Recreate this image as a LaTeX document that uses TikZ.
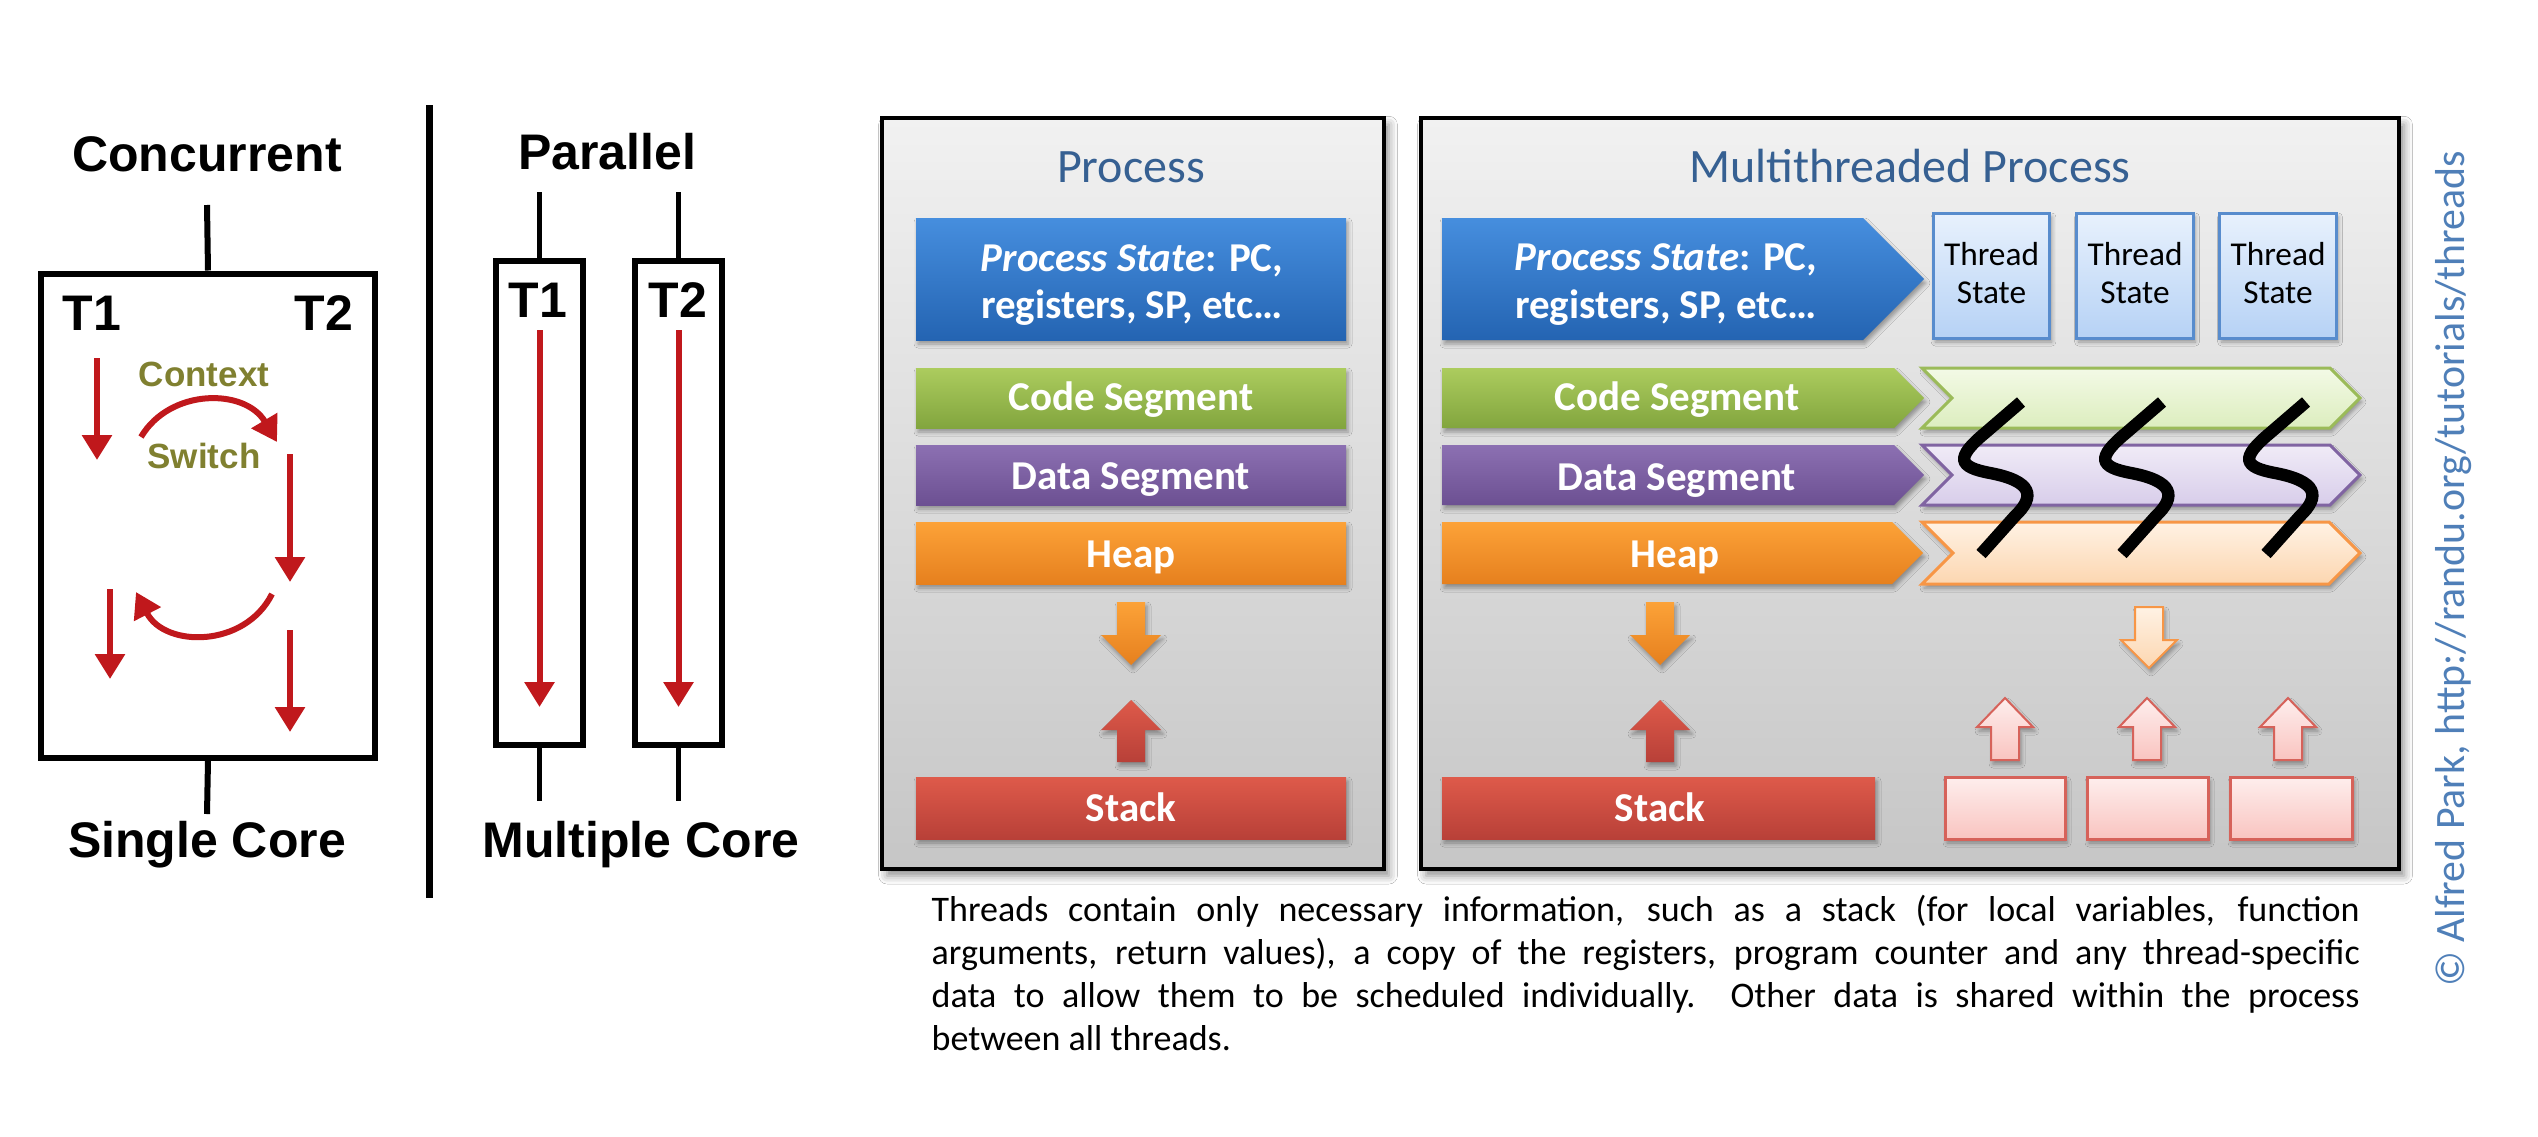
\documentclass[tikz,border=0pt]{standalone}
\usepackage{fontspec}
\setmainfont{Carlito}
\newfontfamily\arialf{Liberation Sans}
\usetikzlibrary{arrows.meta,shadows.blur}

\definecolor{dred}{RGB}{192,24,28}
\definecolor{olivetxt}{RGB}{128,128,48}
\definecolor{titleblue}{RGB}{54,96,146}
\definecolor{copyblue}{RGB}{79,127,184}
\definecolor{pantop}{RGB}{241,241,241}
\definecolor{panbot}{RGB}{198,198,198}
\definecolor{bluetop}{RGB}{70,142,222}
\definecolor{bluebot}{RGB}{36,100,178}
\definecolor{greentop}{RGB}{172,204,94}
\definecolor{greenbot}{RGB}{130,165,62}
\definecolor{purptop}{RGB}{140,112,178}
\definecolor{purpbot}{RGB}{108,80,146}
\definecolor{orgtop}{RGB}{252,162,56}
\definecolor{orgbot}{RGB}{230,128,30}
\definecolor{redtop}{RGB}{222,90,74}
\definecolor{redbot}{RGB}{184,64,56}
\definecolor{lgreentop}{RGB}{243,250,230}
\definecolor{lgreenbot}{RGB}{220,237,190}
\definecolor{lgreenline}{RGB}{155,187,89}
\definecolor{lpurptop}{RGB}{240,235,247}
\definecolor{lpurpbot}{RGB}{216,205,234}
\definecolor{lpurpline}{RGB}{128,100,162}
\definecolor{lorgtop}{RGB}{255,242,228}
\definecolor{lorgbot}{RGB}{252,214,176}
\definecolor{lorgline}{RGB}{247,150,70}
\definecolor{lredtop}{RGB}{254,238,237}
\definecolor{lredbot}{RGB}{249,196,192}
\definecolor{lredline}{RGB}{214,98,90}
\definecolor{lbluetop}{RGB}{232,241,253}
\definecolor{lbluebot}{RGB}{182,210,245}
\definecolor{lblueline}{RGB}{88,140,205}

\newcommand\blkarrow[7]{\path[#1] ({#2-#6},#3) -- ({#2+#6},#3) -- ({#2+#6},#4) -- ({#2+#7},#4) -- (#2,#5) -- ({#2-#7},#4) -- ({#2-#6},#4) -- cycle;}
\newcommand\pentbar[5]{\path[#1] (#2,#4) -- (#3,#4) -- ({#3+(#5-#4)/2},{(#4+#5)/2}) -- (#3,#5) -- (#2,#5) -- cycle;}
\newcommand\chevbar[5]{\path[#1] (#2,#4) -- (#3,#4) -- ({#3+(#5-#4)/2},{(#4+#5)/2}) -- (#3,#5) -- (#2,#5) -- ({#2+(#5-#4)/2},{(#4+#5)/2}) -- cycle;}

\begin{document}
\begin{tikzpicture}[x=0.3pt,y=-0.3pt,
  lbl/.style={font=\arialf\bfseries\fontsize{15}{18}\selectfont, inner sep=0pt, anchor=base},
  cstxt/.style={font=\arialf\bfseries\fontsize{10.5}{12}\selectfont, text=olivetxt, inner sep=0pt, anchor=base},
  frame/.style={draw=black, line width=1.8pt},
  redarr/.style={draw=dred, line width=1.8pt, -{Triangle[width=8.7pt,length=7.5pt]}},
  panel/.style={draw=black, line width=1.2pt, top color=pantop, bottom color=panbot,
     blur shadow={shadow xshift=1.5pt, shadow yshift=-2pt, shadow blur radius=2.5pt, shadow opacity=45}},
  bsh/.style={blur shadow={shadow xshift=0.6pt, shadow yshift=-1.2pt, shadow blur radius=1.2pt, shadow opacity=35}},
  ttl/.style={text=titleblue, font=\fontsize{14.4}{16}\selectfont, inner sep=0pt, anchor=base},
  btxt/.style={text=white, font=\bfseries\fontsize{12.3}{14}\selectfont, inner sep=0pt, anchor=base},
  rectbar/.style={bsh, inner sep=0pt, minimum width=129pt},
  tstxt/.style={font=\fontsize{10}{11}\selectfont, inner sep=0pt, anchor=base},
  tbox/.style={bsh, draw=lblueline, line width=0.9pt, top color=lbluetop, bottom color=lbluebot, inner sep=0pt, minimum width=35pt, minimum height=37.5pt},
  rbox/.style={bsh, draw=lredline, line width=0.9pt, top color=lredtop, bottom color=lredbot, inner sep=0pt, minimum height=18.6pt},
  sq/.style={draw=black, line width=3.7pt},
  capt/.style={font=\fontsize{10.8}{13}\selectfont, inner sep=0pt, anchor=base west},
]
\useasboundingbox (0,0) rectangle (2538,1136);
\fill[white] (0,0) rectangle (2538,1136);

% ---------------- Concurrent ----------------
\node[lbl] (conc) at (207,171) {Concurrent};
\coordinate (ctop) at (207,205);
\node[frame, draw, minimum width=100.2pt, minimum height=145.2pt, inner sep=0pt] (cbox) at (208,515.5) {};
\draw[frame] (ctop) -- (cbox.north);
\coordinate (cbot) at (207,814);
\draw[frame] (cbox.south) -- (cbot);
\node[lbl] (ct1) at (92,330) {T1};
\node[lbl] (ct2) at (324,330) {T2};
\coordinate (a1s) at (97,358);  \coordinate (a1e) at (97,460);
\coordinate (a2s) at (290,454); \coordinate (a2e) at (290,582);
\coordinate (a3s) at (110,589); \coordinate (a3e) at (110,679);
\coordinate (a4s) at (290,630); \coordinate (a4e) at (290,732);
\draw[redarr] (a1s) -- (a1e);
\draw[redarr] (a2s) -- (a2e);
\draw[redarr] (a3s) -- (a3e);
\draw[redarr] (a4s) -- (a4e);
\coordinate (s1s) at (141,437); \coordinate (s1e) at (277,442);
\coordinate (s2s) at (272,594); \coordinate (s2e) at (136,592);
\draw[redarr] (s1s) .. controls (170,388) and (245,388) .. (s1e);
\draw[redarr] (s2s) .. controls (245,648) and (165,648) .. (s2e);
\node[cstxt] (ctx) at (204,386) {Context};
\node[cstxt] (swt) at (204,468) {Switch};
\node[lbl] (single) at (207,857) {Single Core};

% separator
\coordinate (sepT) at (429,105); \coordinate (sepB) at (429,898);
\draw[line width=2.1pt] (sepT) -- (sepB);

% ---------------- Parallel ----------------
\node[lbl] (par) at (607,169) {Parallel};
\node[draw, line width=1.6pt, minimum width=26.1pt, minimum height=145.2pt, inner sep=0pt] (pb1) at (539.5,503) {};
\node[draw, line width=1.6pt, minimum width=26.1pt, minimum height=145.2pt, inner sep=0pt] (pb2) at (678.5,503) {};
\coordinate (p1t) at (539.5,192); \coordinate (p1b) at (539.5,801);
\coordinate (p2t) at (678.5,192); \coordinate (p2b) at (678.5,801);
\draw[line width=1.6pt] (p1t) -- (pb1.north);
\draw[line width=1.6pt] (pb1.south) -- (p1b);
\draw[line width=1.6pt] (p2t) -- (pb2.north);
\draw[line width=1.6pt] (pb2.south) -- (p2b);
\node[lbl] (pt1) at (538,317) {T1};
\node[lbl] (pt2) at (678,317) {T2};
\coordinate (pa1s) at (539.5,330); \coordinate (pa1e) at (539.5,707);
\coordinate (pa2s) at (678.5,330); \coordinate (pa2e) at (678.5,707);
\draw[redarr] (pa1s) -- (pa1e);
\draw[redarr] (pa2s) -- (pa2e);
\node[lbl] (multi) at (641,857) {Multiple Core};

% ---------------- Process panel ----------------
\path[panel] (882,118) rectangle (1384,869);
\node[ttl] (ptitle) at (1131,182) {Process};
\node[rectbar, top color=bluetop, bottom color=bluebot, minimum height=36.6pt] (ps) at (1131,279) {};
\node[btxt] (ps1) at (1132,271) {\itshape Process State\upshape: PC,};
\node[btxt] (ps2) at (1132,318) {registers, SP, etc…};
\node[rectbar, top color=greentop, bottom color=greenbot, minimum height=18pt] (pcode) at (1131,398) {};
\node[btxt] (pcodet) at (1131,410) {Code Segment};
\node[rectbar, top color=purptop, bottom color=purpbot, minimum height=18pt] (pdata) at (1131,475) {};
\node[btxt] (pdatat) at (1131,489) {Data Segment};
\node[rectbar, top color=orgtop, bottom color=orgbot, minimum height=18.6pt] (pheap) at (1131,553) {};
\node[btxt] (pheapt) at (1131,567) {Heap};
\blkarrow{bsh, top color=orgtop, bottom color=orgbot}{1131}{602}{635}{665}{14}{30}
\blkarrow{bsh, top color=redtop, bottom color=redbot}{1131}{762}{730}{700}{14}{30}
\node[rectbar, top color=redtop, bottom color=redbot, minimum height=18.6pt] (pstack) at (1131,808) {};
\node[btxt] (pstackt) at (1131,821) {Stack};

% ---------------- Multithreaded panel ----------------
\path[panel] (1421,118) rectangle (2399,869);
\node[ttl] (mtitle) at (1910,182) {Multithreaded Process};
\pentbar{bsh, top color=bluetop, bottom color=bluebot}{1442}{1863}{218}{340}
\node[btxt] (mps1) at (1666,270) {\itshape Process State\upshape: PC,};
\node[btxt] (mps2) at (1666,318) {registers, SP, etc…};
\pentbar{bsh, top color=greentop, bottom color=greenbot}{1442}{1894}{368}{428}
\node[btxt] (mcode) at (1677,410) {Code Segment};
\pentbar{bsh, top color=purptop, bottom color=purpbot}{1442}{1894}{445}{505}
\node[btxt] (mdata) at (1677,490) {Data Segment};
\pentbar{bsh, top color=orgtop, bottom color=orgbot}{1442}{1892}{522}{584}
\node[btxt] (mheap) at (1675,567) {Heap};

\node[tbox] (ts1) at (1991.5,275.5) {};
\node[tbox] (ts2) at (2135,275.5) {};
\node[tbox] (ts3) at (2278,275.5) {};
\foreach \n/\x in {1/1991.5,2/2135,3/2278}{
  \node[tstxt] (tsa\n) at (\x,265) {Thread};
  \node[tstxt] (tsb\n) at (\x,303) {State};
}

\chevbar{bsh, draw=lgreenline, line width=0.9pt, top color=lgreentop, bottom color=lgreenbot}{1922}{2330}{368}{428}
\chevbar{bsh, draw=lpurpline, line width=0.9pt, top color=lpurptop, bottom color=lpurpbot}{1922}{2330}{445}{505}
\chevbar{bsh, draw=lorgline, line width=0.9pt, top color=lorgtop, bottom color=lorgbot}{1922}{2329}{522}{584}

\foreach \dx in {0,141,285}{
  \draw[sq, shift={(\dx,0)}] (2021,402) -- (1985,433) .. controls (1955,458) and (1958,467) .. (1990,473) .. controls (2032,481) and (2036,496) .. (2015,516) -- (1981,554);
}

\blkarrow{bsh, top color=orgtop, bottom color=orgbot}{1660}{602}{635}{665}{14}{30}
\blkarrow{bsh, top color=redtop, bottom color=redbot}{1660}{762}{730}{700}{14}{30}
\node[rectbar, top color=redtop, bottom color=redbot, minimum width=129.9pt, minimum height=18.6pt] (mstack) at (1658.5,808) {};
\node[btxt] (mstackt) at (1660,821) {Stack};

\blkarrow{bsh, draw=lorgline, line width=0.6pt, top color=lorgtop, bottom color=lorgbot}{2149}{607}{640}{668}{14}{28}
\foreach \x in {2005,2147,2288}{
  \blkarrow{bsh, draw=lredline, line width=0.6pt, top color=lredtop, bottom color=lredbot}{\x}{760}{727}{698}{14}{28}
}
\node[rbox, minimum width=36pt] (rb1) at (2005,808) {};
\node[rbox, minimum width=36.3pt] (rb2) at (2147.5,808) {};
\node[rbox, minimum width=36.6pt] (rb3) at (2291,808) {};

% ---------------- caption ----------------
\node[capt] (cap1) at (931,921) {\makebox[428.4pt][s]{Threads contain only necessary information, such as a stack (for local variables, function}};
\node[capt] (cap2) at (931,964) {\makebox[428.4pt][s]{arguments, return values), a copy of the registers, program counter and any thread-specific}};
\node[capt] (cap3) at (931,1007) {\makebox[428.4pt][s]{data to allow them to be scheduled individually.\ \ Other data is shared within the process}};
\node[capt] (cap4) at (931,1050) {between all threads.};

% ---------------- copyright ----------------
\node[rotate=90, text=copyblue, font=\fontsize{12.55}{14}\selectfont, inner sep=0pt, anchor=base] (copy) at (2464,569) {© Alfred Park, http://randu.org/tutorials/threads};
\end{tikzpicture}
\end{document}
